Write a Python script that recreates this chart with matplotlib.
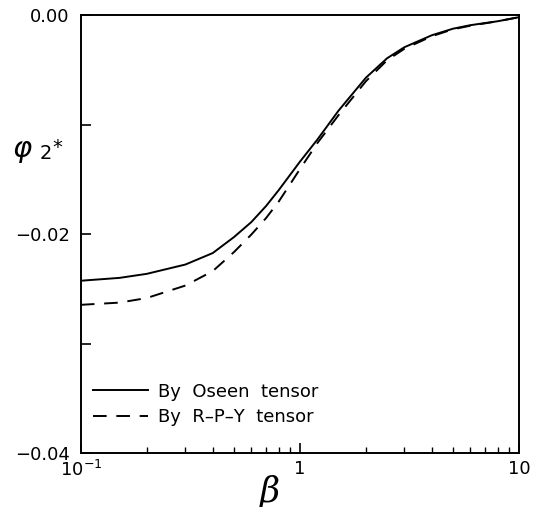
import matplotlib
matplotlib.use('Agg')
import matplotlib.pyplot as plt
import matplotlib.ticker as ticker
import numpy as np

plt.rcParams['font.family'] = ['DejaVu Sans']
plt.rcParams['mathtext.fontset'] = 'dejavusans'

# beta values and the two phi_2* curves
beta = [0.1, 0.15, 0.2, 0.3, 0.4, 0.5, 0.6, 0.7, 0.8, 1.0,
        1.2, 1.5, 2.0, 2.5, 3.0, 4.0, 5.0, 6.0, 8.0, 10.0]
phi_oseen = [-0.02426, -0.02400, -0.02363, -0.02278, -0.02173, -0.02027, -0.01890,
             -0.01744, -0.01598, -0.01338, -0.01137, -0.00872, -0.00571, -0.00393,
             -0.00292, -0.00183, -0.00123, -0.00091, -0.00055, -0.00018]
phi_rpy = [-0.02646, -0.02626, -0.02584, -0.02470, -0.02338, -0.02164, -0.02004,
           -0.01854, -0.01703, -0.01406, -0.01169, -0.00913, -0.00603, -0.00411,
           -0.00306, -0.00192, -0.00128, -0.00096, -0.00055, -0.00018]

x_ticks = [0.1, 1, 10]
x_ticklabels = ['10$^{-1}$', '1', '10']
y_ticks = [0.0, -0.01, -0.02, -0.03, -0.04]
y_ticklabels = ['0.00', '', '-0.02', '', '-0.04']

fig = plt.figure(figsize=(5.39, 5.07), dpi=100)
ax = fig.add_axes([0.150, 0.1065, 0.813, 0.8635])

ax.plot(beta, phi_oseen, color='black', linewidth=1.4, label='By  Oseen  tensor')
ax.plot(beta, phi_rpy, color='black', linewidth=1.4, linestyle=(0, (7, 5)),
        label='By  R\u2013P\u2013Y  tensor')

ax.set_xscale('log')
ax.set_xlim(0.1, 10)
ax.set_ylim(-0.04, 0.0)

ax.xaxis.set_major_locator(ticker.FixedLocator(x_ticks))
ax.xaxis.set_major_formatter(ticker.FixedFormatter(x_ticklabels))
ax.xaxis.set_minor_locator(ticker.LogLocator(base=10, subs=np.arange(2, 10)))
ax.xaxis.set_minor_formatter(ticker.NullFormatter())
ax.set_yticks(y_ticks)
ax.set_yticklabels([t.replace('-', '\u2212') for t in y_ticklabels])

ax.tick_params(axis='both', which='major', direction='in', length=7, width=1.2,
               labelsize=13, top=False, right=False)
ax.tick_params(axis='x', which='minor', direction='in', length=4, width=1.0,
               top=False)
ax.tick_params(axis='y', pad=8)
ax.tick_params(axis='x', pad=5)
for sp in ax.spines.values():
    sp.set_linewidth(1.4)

# axis titles: beta below, phi_2* to the left
ax.text(0.429, -0.088, '\u03b2', transform=ax.transAxes, fontsize=25,
        style='italic', family='DejaVu Serif', ha='center', va='center')
ax.text(-0.158, 0.69, r'$\varphi$', transform=ax.transAxes, fontsize=21,
        ha='left', va='center')
ax.text(-0.093, 0.683, '2', transform=ax.transAxes, fontsize=14,
        ha='left', va='center')
ax.text(-0.066, 0.697, '*', transform=ax.transAxes, fontsize=14,
        ha='left', va='center')

ax.legend(loc='lower left', bbox_to_anchor=(0.0, 0.033), frameon=False, fontsize=13,
          handlelength=3.0, handletextpad=0.6, labelspacing=0.4, borderaxespad=0.3)

fig.savefig('out.png', dpi=100)
